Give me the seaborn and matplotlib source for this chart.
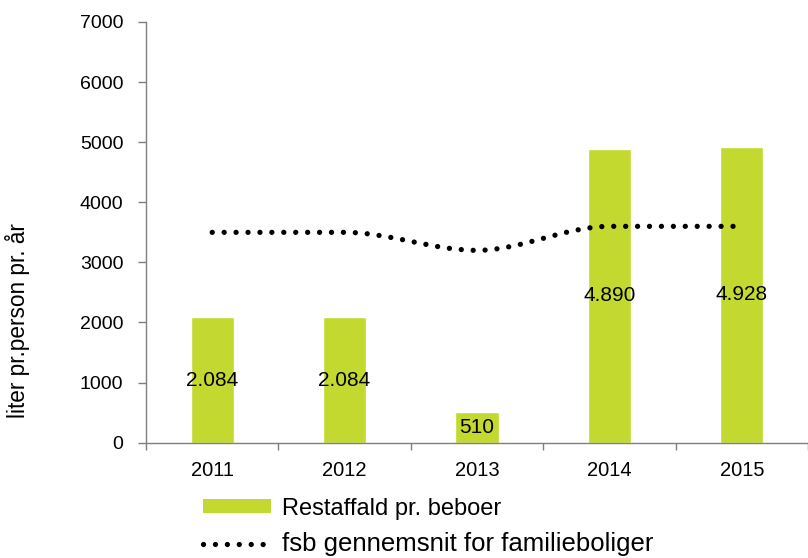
import matplotlib
matplotlib.use("Agg")
import matplotlib.pyplot as plt
from matplotlib.path import Path
from matplotlib.patches import PathPatch, Patch
from matplotlib.lines import Line2D
import seaborn as sns
import numpy as np
import pandas as pd

years = ["2011", "2012", "2013", "2014", "2015"]
restaffald = [2084, 2084, 510, 4890, 4928]
fsb_avg = [3500, 3500, 3200, 3600, 3600]
bar_labels = ["2.084", "2.084", "510", "4.890", "4.928"]

bar_color = "#c3d92f"
axis_gray = "#7f7f7f"

sns.set_theme(style="white")
plt.rcParams["font.family"] = ["Liberation Sans", "DejaVu Sans"]

df = pd.DataFrame({"year": years, "value": restaffald})

fig = plt.figure(figsize=(8.08, 5.58), dpi=100)
ax = fig.add_axes([146 / 808, 1 - 442.7 / 558, 1 - 146 / 808, (442.7 - 22) / 558])

sns.barplot(data=df, x="year", y="value", color=bar_color, width=0.325,
            saturation=1, ax=ax)
for c in ax.containers:
    ax.bar_label(c, labels=bar_labels, label_type="center", fontsize=15,
                 color="black")

# smoothed line through the averages (cubic segments, flat at turning points)
xs = np.arange(len(years), dtype=float)
ys = np.array(fsb_avg, dtype=float)
n = len(xs)
secants = np.diff(ys)
tangents = np.zeros(n)
for i in range(1, n - 1):
    if secants[i - 1] * secants[i] > 0:
        tangents[i] = (secants[i - 1] + secants[i]) / 2
verts = [(xs[0], ys[0])]
codes = [Path.MOVETO]
for i in range(n - 1):
    c1 = (xs[i] + 1 / 3, ys[i] + tangents[i] / 3)
    c2 = (xs[i + 1] - 1 / 3, ys[i + 1] - tangents[i + 1] / 3)
    verts += [c1, c2, (xs[i + 1], ys[i + 1])]
    codes += [Path.CURVE4] * 3
dot_style = (0, (0.01, 2.25))
patch = PathPatch(Path(verts, codes), facecolor="none", edgecolor="black",
                  linewidth=3.8, linestyle=dot_style, capstyle="round")
ax.add_patch(patch)

ax.set_xlim(-0.5, 4.5)
ax.set_ylim(0, 7000)
ax.set_yticks(range(0, 7001, 1000))
ax.set_xticks(np.arange(-0.5, 4.6, 1), minor=False)
ax.set_xticklabels([])
ax.set_xticks(xs, minor=True)
ax.set_xticklabels(years, minor=True)
ax.tick_params(axis="x", which="major", length=5, width=1, color=axis_gray,
               direction="out", bottom=True)
ax.tick_params(axis="x", which="minor", length=0, pad=13, labelsize=14.5,
               labelcolor="black")
ax.tick_params(axis="y", length=5.8, width=1, color=axis_gray, direction="out",
               left=True, pad=10.5, labelsize=14, labelcolor="black")
ax.set_xlabel("")
ax.set_ylabel("")
for s in ["top", "right"]:
    ax.spines[s].set_visible(False)
for s in ["left", "bottom"]:
    ax.spines[s].set_color(axis_gray)
    ax.spines[s].set_linewidth(1)

fig.text(18 / 808, 1 - 321 / 558, "liter pr.person pr. år", rotation=90,
         ha="center", va="center", fontsize=16.3, color="black")

handles = [Patch(facecolor=bar_color, edgecolor="none"),
           Line2D([0], [0], color="black", linewidth=3.8, linestyle=dot_style,
                  dash_capstyle="round")]
leg = fig.legend(handles, ["Restaffald pr. beboer", "fsb gennemsnit for familieboliger"],
                 loc="center left", bbox_to_anchor=(203 / 808, 1 - 527 / 558),
                 frameon=False, fontsize=17, handlelength=2.9, handleheight=0.5,
                 handletextpad=0.45, labelspacing=0.55, borderpad=0,
                 borderaxespad=0, labelcolor="black")
leg.get_texts()[1].set_fontsize(18.5)

fig.savefig("out.png", dpi=100)
